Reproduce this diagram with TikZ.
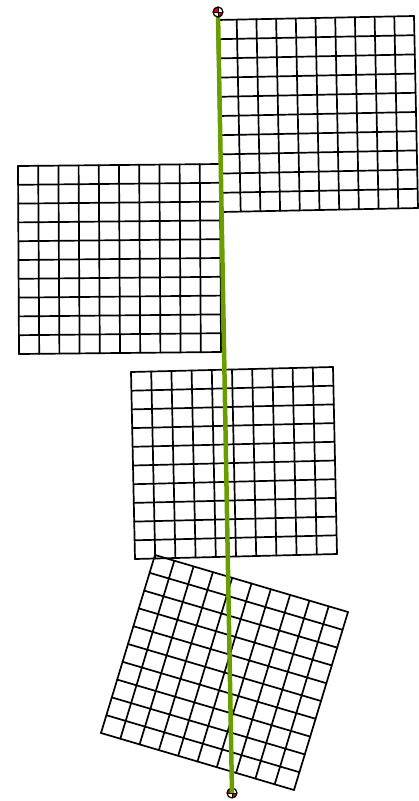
\documentclass[tikz,border=0pt]{standalone}
\usetikzlibrary{calc}
\definecolor{stickgreen}{HTML}{6A9E00}
\definecolor{markred}{HTML}{E00000}
\tikzset{
  gridline/.style={black, line width=1.7pt, line cap=round, line join=round},
  stick/.style={stickgreen, line width=4.5pt},
}
% #1 TL, #2 TR, #3 BL
\newcommand{\cellgrid}[3]{%
  \foreach \i in {0,...,10}{%
    \draw[gridline] ($#1!\i/10!#2$) -- ($#3!\i/10!($#2+#3-#1$)$);
    \draw[gridline] ($#1!\i/10!#3$) -- ($#2!\i/10!($#2+#3-#1$)$);
  }%
}
\newcommand{\cgmark}[1]{%
  \fill[white] #1 circle (5);
  \fill[markred] #1 -- ++(5,0) arc (0:90:5) -- cycle;
  \fill[markred] #1 -- ++(-5,0) arc (180:270:5) -- cycle;
  \draw[black, line width=1.2pt] #1 circle (5);
  \draw[black, line width=1pt] ($#1+(-5,0)$) -- ($#1+(5,0)$);
  \draw[black, line width=1pt] ($#1+(0,-5)$) -- ($#1+(0,5)$);
}
\begin{document}
\begin{tikzpicture}[x=1pt,y=-1pt]
\useasboundingbox (0,0) rectangle (418,801);
% grids
\cellgrid{(217,20)}{(414,16)}{(221,212)}
\cellgrid{(18,166)}{(220,164)}{(19,354)}
\cellgrid{(131,372)}{(333,367)}{(135,559)}
\cellgrid{(155,555)}{(348,612)}{(101,733)}
% markers and stick
\coordinate (topend) at (218,12);
\coordinate (botend) at (232,793);
\cgmark{(botend)}
\draw[stick] (topend) -- (botend);
\cgmark{(topend)}
\end{tikzpicture}
\end{document}
